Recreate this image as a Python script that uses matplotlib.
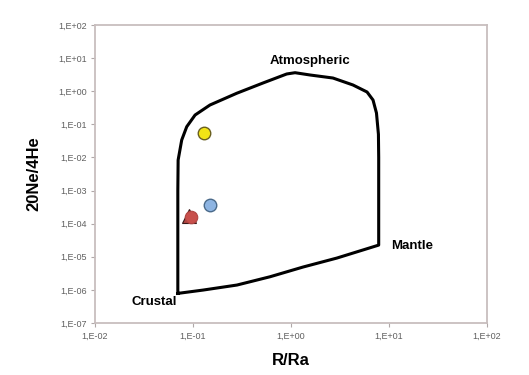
import matplotlib.pyplot as plt
import numpy as np

plt.rcParams['font.family'] = ['Liberation Sans', 'DejaVu Sans']

# mixing envelope (R/Ra, 20Ne/4He), traced clockwise from the crustal corner
env_x = [0.0700, 0.0700, 0.0705, 0.0767, 0.0863, 0.105, 0.149, 0.279, 0.518,
         0.904, 1.10, 1.56, 2.68, 4.29, 5.97, 6.87, 7.45, 7.80, 7.85,
         7.85, 2.94, 1.325, 0.611, 0.281, 0.1265, 0.0700]
env_y = [7.83e-7, 1.0e-3, 8.35e-3, 3.36e-2, 8.46e-2, 0.191, 0.383, 0.865, 1.77,
         3.31, 3.62, 3.09, 2.50, 1.54, 0.946, 0.542, 0.219, 5.0e-2, 1.0e-2,
         2.25e-5, 9.14e-6, 4.89e-6, 2.49e-6, 1.40e-6, 9.86e-7, 7.83e-7]

# samples
yellow_x, yellow_y = [0.129], [0.0546]
blue_x, blue_y = [0.149], [3.65e-4]
red_tri_x, red_tri_y = [0.092], [1.75e-4]
red_x, red_y = [0.0955], [1.55e-4]

xticks = [1e-2, 1e-1, 1e0, 1e1, 1e2]
xlabels = ['1,E-02', '1,E-01', '1,E+00', '1,E+01', '1,E+02']
yticks = [1e-7, 1e-6, 1e-5, 1e-4, 1e-3, 1e-2, 1e-1, 1e0, 1e1, 1e2]
ylabels = ['1,E-07', '1,E-06', '1,E-05', '1,E-04', '1,E-03',
           '1,E-02', '1,E-01', '1,E+00', '1,E+01', '1,E+02']

fig = plt.figure(figsize=(5.29, 3.75), dpi=100)
ax = fig.add_axes([0.1796, 0.1387, 0.741, 0.7947])

ax.plot(env_x, env_y, color='black', lw=2.2, solid_joinstyle='round')

ax.plot(red_tri_x, red_tri_y, '^', color='#b04542', mec='#3a1a1a', ms=10, mew=0.8)
ax.plot(red_x, red_y, 'o', color='#c8504c', mec='#b04542', ms=9, mew=0.8)
ax.plot(blue_x, blue_y, 'o', color='#8db4e2', mec='#4a6a8a', ms=9, mew=1.0)
ax.plot(yellow_x, yellow_y, 'o', color='#f2e416', mec='#6a6020', ms=9, mew=1.0)

ax.set_xscale('log')
ax.set_yscale('log')
ax.set_xlim(1e-2, 1e2)
ax.set_ylim(1e-7, 1e2)
ax.set_xticks(xticks)
ax.set_xticklabels(xlabels)
ax.set_yticks(yticks)
ax.set_yticklabels(ylabels)
ax.minorticks_off()
ax.tick_params(direction='out', length=3, width=0.8, color='#b0a8a8',
               labelsize=6.5, labelcolor='#606060', pad=3)
for s in ax.spines.values():
    s.set_color('#c8bebe')
    s.set_linewidth(1.3)

ax.set_xlabel('R/Ra', fontsize=12, fontweight='bold', labelpad=9)
ax.set_ylabel('20Ne/4He', fontsize=12, fontweight='bold', labelpad=12)

ax.text(1.55, 8.0, 'Atmospheric', fontsize=9.5, fontweight='bold', ha='center', va='center')
ax.text(10.5, 2.1e-5, 'Mantle', fontsize=9.5, fontweight='bold', ha='left', va='center')
ax.text(0.069, 4.2e-7, 'Crustal', fontsize=9.5, fontweight='bold', ha='right', va='center')

fig.savefig('out.png', dpi=100)
